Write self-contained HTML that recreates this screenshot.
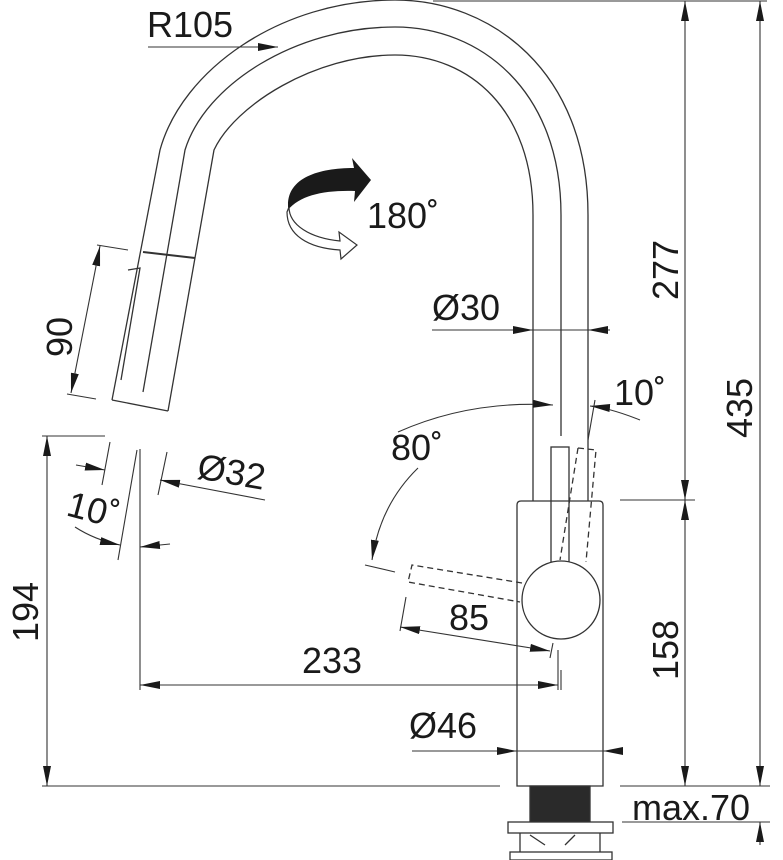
<!DOCTYPE html>
<html><head><meta charset="utf-8"><style>
html,body{margin:0;padding:0;background:#fff;}
svg{display:block;}
text{font-family:"Liberation Sans",Arial,sans-serif;font-size:36px;fill:#1a1a1a;}
</style></head><body>
<svg width="783" height="860" viewBox="0 0 783 860" xmlns="http://www.w3.org/2000/svg">
<defs>
<marker id="a" viewBox="0 0 20 8" refX="20" refY="4" markerWidth="20" markerHeight="8" markerUnits="userSpaceOnUse" orient="auto-start-reverse">
<path d="M0,0 L20,4 L0,8 Z" fill="#1a1a1a"/></marker>
</defs>
<g fill="none" stroke="#333" stroke-width="1.3">
<!-- spout -->
<path d="M588,501 V215 C588,70 490,0 395,0 C280,0 182,70 160,150 L112,400"/>
<path d="M561,436 V215 C561,90 480,27 395,27 C295,27 205,85 185,150 L143,392"/>
<path d="M533,501 V215 C533,110 470,55 395,55 C315,55 235,105 214,150 L168,411"/>
<path d="M112,400 L168,411"/>
<path d="M143,252 L195,258" stroke-width="2"/>
<path d="M128,270 L140,268 L121,380"/>
<!-- body -->
<path d="M517,786 V505 Q517,501 521,501 H599 Q603,501 603,505 V786 Z"/>
<rect x="551" y="447" width="18" height="115"/>
<circle cx="561" cy="600" r="39" fill="#fff"/>
<g stroke-dasharray="6,4">
<path d="M578,448 L596,450 L586,562"/>
<path d="M578,448 L560,560"/>
<path d="M522,583 L412,565 L408,582 L520,602"/>
</g>
<!-- thread & nut -->
<rect x="530" y="786" width="60" height="36" fill="#2a2a2a"/>
<rect x="508" y="822" width="105" height="11" fill="#fff"/>
<path d="M520,833 V852 M600,833 V852 M530,835 L545,845 M575,835 L565,845"/>
<rect x="510" y="852" width="102" height="8" fill="#fff"/>
</g>
<!-- dimensions -->
<g fill="none" stroke="#333" stroke-width="1.1">
<path d="M433,1 H767"/>
<path d="M685,500 V1" marker-end="url(#a)" marker-start="url(#a)"/>
<path d="M620,500 H695"/>
<path d="M685,786 V500" marker-end="url(#a)" marker-start="url(#a)"/>
<path d="M760,786 V1" marker-end="url(#a)" marker-start="url(#a)"/>
<path d="M620,786 H770 M622,822 H770"/>
<path d="M760,845 V822" marker-end="url(#a)"/>
<path d="M47,436 V786" marker-end="url(#a)" marker-start="url(#a)"/>
<path d="M42,436 H105 M42,786 H500"/>
<path d="M140,449 V690 M558,650 V690 M561,670 V690"/>
<path d="M140,685 H558" marker-end="url(#a)" marker-start="url(#a)"/>
<path d="M412,751 H517" marker-end="url(#a)"/>
<path d="M622,751 H603" marker-end="url(#a)"/>
<path d="M517,751 H603"/>
<path d="M432,330 H533" marker-end="url(#a)"/>
<path d="M610,330 H588" marker-end="url(#a)"/>
<path d="M533,330 H588"/>
<path d="M148,47 H278" marker-end="url(#a)"/>
<path d="M97,245 L128,250 M67,394 L96,399"/>
<path d="M100,246 L71,393" marker-end="url(#a)" marker-start="url(#a)"/>
<path d="M110,442 L102,485 M167,452 L158,495 M137,450 L118,560"/>
<path d="M76,465 L105,470" marker-end="url(#a)"/>
<path d="M265,500 L160,480" marker-end="url(#a)"/>
<path d="M75,527 Q95,540 120,545" marker-end="url(#a)"/>
<path d="M170,544 L140,547" marker-end="url(#a)"/>
<path d="M398,432 Q470,400 553,405" marker-end="url(#a)"/>
<path d="M418,468 Q380,505 372,560" marker-end="url(#a)"/>
<path d="M640,420 Q610,408 590,406" marker-end="url(#a)"/>
<path d="M595,400 L588,440"/>
<path d="M365,565 L395,572"/>
<path d="M406,597 L400,631 M553,643 L550,658"/>
<path d="M400,627 L550,651" marker-end="url(#a)" marker-start="url(#a)"/>
</g>
<!-- rotate icon -->
<path d="M288,205 C288,178 318,168 354,168 L352,158 L371,180 L354,202 L355,191 C325,190 300,195 288,210 Z" fill="#1a1a1a"/>
<path d="M289,207 C289,225 310,238 340,241 L339,232 L357,245 L341,259 L340,250 C308,248 287,235 287,212 Z" fill="#fff" stroke="#333" stroke-width="1.2"/>
<!-- labels -->
<text x="147" y="37">R105</text>
<text x="367" y="228">180˚</text>
<text x="432" y="320">Ø30</text>
<text x="614" y="405">10˚</text>
<text x="391" y="460">80˚</text>
<text x="449" y="630">85</text>
<text x="302" y="673">233</text>
<text x="409" y="738">Ø46</text>
<text x="632" y="820">max.70</text>
<g text-anchor="middle">
<text transform="translate(678,270) rotate(-90)">277</text>
<text transform="translate(678,650) rotate(-90)">158</text>
<text transform="translate(752,408) rotate(-90)">435</text>
<text transform="translate(38,612) rotate(-90)">194</text>
<text transform="translate(72,337) rotate(-90)">90</text>
</g>
<text transform="translate(196,478) rotate(10)">Ø32</text>
<text transform="translate(65,515) rotate(15)">10˚</text>
</svg>
</body></html>
